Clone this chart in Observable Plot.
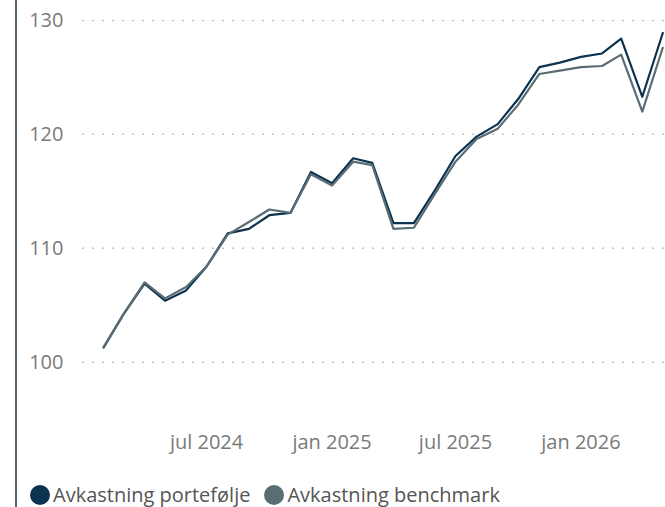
<!DOCTYPE html>
<html><head><meta charset="utf-8">
<script src="https://cdn.jsdelivr.net/npm/d3@7"></script>
<script src="https://cdn.jsdelivr.net/npm/@observablehq/plot@0.6"></script>
<style>
body{margin:0;background:#fff;font-family:"Open Sans",sans-serif;}
#wrap{position:relative;width:665px;height:507px;overflow:hidden;}
#bar{position:absolute;left:15px;top:0;width:2px;height:507px;background:#52676f;}
#chart{position:absolute;left:0;top:0;}
#legend{position:absolute;left:30px;top:483px;display:flex;align-items:center;font-size:20px;line-height:23px;color:#555;white-space:nowrap;}
.item{display:flex;align-items:center;margin-right:14px;}
.sw{width:20px;height:20px;border-radius:50%;margin-right:3px;}
</style></head><body>
<div id="wrap"><div id="bar"></div><div id="chart"></div><div id="legend"></div></div>
<script>
const months = ["2024-02","2024-03","2024-04","2024-05","2024-06","2024-07","2024-08","2024-09","2024-10","2024-11","2024-12",
  "2025-01","2025-02","2025-03","2025-04","2025-05","2025-06","2025-07","2025-08","2025-09","2025-10","2025-11","2025-12",
  "2026-01","2026-02","2026-03","2026-04","2026-05"];
const portfolio = [101.3,104.2,106.9,105.4,106.3,108.4,111.3,111.7,112.9,113.1,116.7,115.7,117.9,117.5,112.2,112.2,115.1,118.1,119.8,120.9,123.1,125.9,126.3,126.8,127.1,128.4,123.3,128.9];
const benchmark = [101.3,104.2,107.0,105.6,106.6,108.4,111.2,112.3,113.4,113.1,116.5,115.5,117.6,117.3,111.7,111.8,114.8,117.6,119.6,120.5,122.6,125.3,125.6,125.9,126.0,127.0,122.0,127.6];
const seriesNames = ["Avkastning portefølje","Avkastning benchmark"];
const seriesColors = ["#0b3350","#5a6d74"];
const yTicks = [100,110,120,130];
const xTicks = ["2024-07","2025-01","2025-07","2026-01"];
const monthNames = ["jan","feb","mar","apr","mai","jun","jul","aug","sep","okt","nov","des"];

const toDate = m => new Date(m + "-01T00:00:00Z");
const data = [];
months.forEach((m, i) => {
  data.push({date: toDate(m), value: portfolio[i], series: seriesNames[0]});
});
months.forEach((m, i) => {
  data.push({date: toDate(m), value: benchmark[i], series: seriesNames[1]});
});

const chart = Plot.plot({
  width: 665, height: 465,
  marginLeft: 82, marginRight: 0, marginTop: 0, marginBottom: 35,
  style: {fontFamily: "'Open Sans', sans-serif", fontSize: "20px", color: "#7a7a7a", background: "transparent", overflow: "visible"},
  x: {type: "utc", domain: [new Date("2024-01-01T00:00:00Z"), new Date("2026-05-05T00:00:00Z")],
      ticks: xTicks.map(toDate), tickFormat: d => monthNames[d.getUTCMonth()] + " " + d.getUTCFullYear(),
      tickSize: 0, tickPadding: 4, label: null},
  y: {domain: [94, 131.75], ticks: yTicks, tickSize: 0, tickPadding: 19, label: null},
  color: {domain: seriesNames, range: seriesColors},
  marks: [
    Plot.gridY(yTicks, {stroke: "#c4c4c4", strokeOpacity: 1, strokeDasharray: "2,8", strokeWidth: 1.5}),
    Plot.line(data, {x: "date", y: "value", stroke: "series", z: "series", strokeWidth: 2.2})
  ]
});
document.getElementById("chart").appendChild(chart);

const legend = document.getElementById("legend");
seriesNames.forEach((name, i) => {
  const item = document.createElement("div");
  item.className = "item";
  const sw = document.createElement("span");
  sw.className = "sw";
  sw.style.background = seriesColors[i];
  const t = document.createElement("span");
  t.textContent = name;
  item.appendChild(sw); item.appendChild(t);
  legend.appendChild(item);
});
</script>
</body></html>
